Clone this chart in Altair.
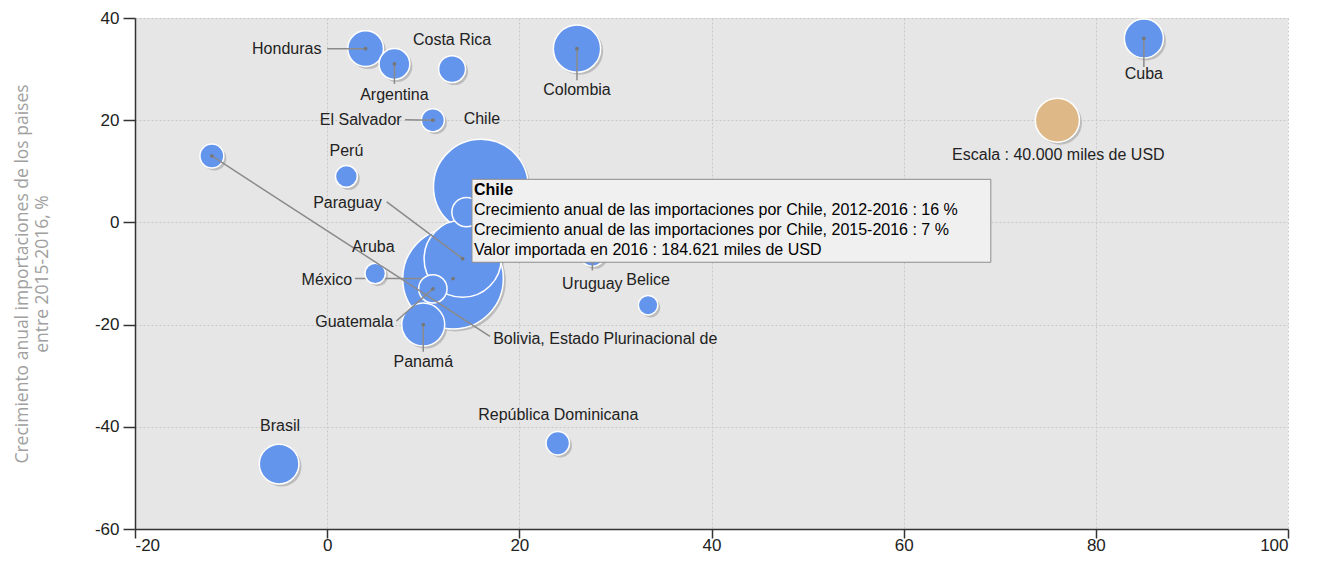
import altair as alt
import pandas as pd

# ---- data ----
paises = ["Honduras", "Argentina", "Costa Rica", "Colombia", "Cuba", "El Salvador",
          "Chile", "Perú", "Bolivia, Estado Plurinacional de", "Paraguay", "México",
          "Aruba", "Guatemala", "Panamá", "", "Uruguay", "Belice",
          "República Dominicana", "Brasil"]
crec_2012_2016 = [4, 7, 13, 26, 85, 11, 16, 2, -12, 14.1, 13.1, 5, 11, 10, 14.5, 27.6, 33.4, 24, -5]
crec_2015_2016 = [34, 31, 30, 34, 36, 20, 7, 9, 13, -7.1, -11, -10, -13, -20, 2, -6, -16.2, -43.2, -47.3]
valor_2016 = [26200, 19500, 14900, 45900, 31300, 10900, 184621, 9800, 11700, 122200,
              207700, 8600, 16500, 37900, 17600, 14300, 7800, 11300, 32300]

escala_valor = 40000
escala_texto = "Escala : 40.000 miles de USD"

# ---- label layout (data units) ----
label_x = [-0.6, 7.0, 13.0, 26.0, 85.0, 7.75, 16.1, 2.0, 17.28, 5.67, 2.61, 4.8, 6.9, 10.0, 0, 27.6, 33.4, 24.05, -4.9]
label_y = [34, 25.0, 35.6, 26.0, 29.1, 20.1, 20.3, 14.0, -22.9, 3.8, -11.2, -4.9, -19.5, -27.3, 0, -12.0, -11.2, -37.7, -39.9]
label_align = ["right", "center", "center", "center", "center", "right", "center", "center", "left",
               "right", "right", "center", "right", "center", "center", "center", "center", "center", "center"]
# leader line start (label side); None = no leader line
leader_x = [0.0, 7.0, None, 26.0, 85.0, 8.1, None, None, 16.94, 6.2, 2.9, None, 7.2, 10.0, None, 27.6, None, None, None]
leader_y = [34, 27.1, None, 27.8, 30.4, 20.1, None, None, -22.3, 4.0, -11.0, None, -19.3, -25.3, None, -9.4, None, None, None]

tooltip_lines = ["Chile",
                 "Crecimiento anual de las importaciones por Chile, 2012-2016 : 16 %",
                 "Crecimiento anual de las importaciones por Chile, 2015-2016 : 7 %",
                 "Valor importada en 2016 : 184.621 miles de USD"]
tooltip_line_y = [6.41, 2.5, -1.5, -5.45]
tooltip_bold = [True, False, False, False]
tooltip_box = {"x": 15.07, "x2": 69.07, "y": 8.43, "y2": -7.8}
tooltip_text_x = 15.28

df = pd.DataFrame({
    "pais": paises, "x": crec_2012_2016, "y": crec_2015_2016, "valor": valor_2016,
    "lx": label_x, "ly": label_y, "align": label_align,
    "sx": leader_x, "sy": leader_y,
})
df_lead = df.dropna(subset=["sx"]).copy()
df_esc = pd.DataFrame({"x": [76], "y": [20], "valor": [escala_valor],
                       "lx": [76.1], "ly": [13.1], "texto": [escala_texto]})
df_tip = pd.DataFrame({"t": tooltip_lines, "ty": tooltip_line_y, "b": tooltip_bold,
                       "tx": [tooltip_text_x] * 4})
df_box = pd.DataFrame([tooltip_box])

FONT = "Liberation Sans"
xscale = alt.Scale(domain=[-20, 100], nice=False, zero=False)
yscale = alt.Scale(domain=[-60, 40], nice=False, zero=False)
xaxis = alt.Axis(values=[-20, 0, 20, 40, 60, 80, 100], title=None, tickSize=9,
                 labelBaseline="alphabetic", labelPadding=12,
                 labelExpr="'' + datum.value")
yaxis = alt.Axis(values=[-60, -40, -20, 0, 20, 40], tickSize=12, labelPadding=4,
                 labelExpr="'' + datum.value",
                 title=["Crecimiento anual importaciones de los paises", "entre 2015-2016, %"],
                 titleX=-113, titleY=255.5, titleAngle=270, titleAlign="center",
                 titleBaseline="middle", titleLineHeight=20, titleFontSize=17.5,
                 titleColor="#a0a0a0", titleFontWeight="normal", titleFont="Open Sans")
sizescale = alt.Scale(type="linear", domain=[0, 200000], range=[0, 9740])

def X(f):
    return alt.X(f, scale=xscale, axis=xaxis)

def Y(f):
    return alt.Y(f, scale=yscale, axis=yaxis)

size = alt.Size("valor:Q", scale=sizescale, legend=None)
order = alt.Order("valor:Q", sort="descending")

base = alt.Chart(df)

shadow = base.mark_circle(color="#8a8a8a", opacity=0.45, xOffset=2.5, yOffset=2.5).encode(
    x=X("x:Q"), y=Y("y:Q"), size=size, order=order)
esc_shadow = alt.Chart(df_esc).mark_circle(color="#8a8a8a", opacity=0.45, xOffset=2.5, yOffset=2.5).encode(
    x=X("x:Q"), y=Y("y:Q"), size=size)

bub_big = base.transform_filter(alt.datum.pais == "México").mark_point(
    shape="circle", filled=True, fill="#6495ED", fillOpacity=1, stroke="white",
    strokeWidth=1.5, opacity=1).encode(x=X("x:Q"), y=Y("y:Q"), size=size)

lead_big = alt.Chart(df_lead).transform_filter(alt.datum.pais == "México").mark_rule(
    color="#8a8a8a", strokeWidth=1.5).encode(x=X("sx:Q"), x2="x:Q", y=Y("sy:Q"), y2="y:Q")

bub = base.transform_filter(alt.datum.pais != "México").mark_point(
    shape="circle", filled=True, fill="#6495ED", fillOpacity=1, stroke="white",
    strokeWidth=1.5, opacity=1).encode(x=X("x:Q"), y=Y("y:Q"), size=size, order=order)

esc = alt.Chart(df_esc).mark_point(
    shape="circle", filled=True, fill="#DEB887", fillOpacity=1, stroke="white",
    strokeWidth=1.5, opacity=1).encode(x=X("x:Q"), y=Y("y:Q"), size=size)

lead = alt.Chart(df_lead).transform_filter(alt.datum.pais != "México").mark_rule(
    color="#8a8a8a", strokeWidth=1.5).encode(x=X("sx:Q"), x2="x:Q", y=Y("sy:Q"), y2="y:Q")

dots = alt.Chart(df_lead).mark_circle(color="#777777", size=14, opacity=1).encode(
    x=X("x:Q"), y=Y("y:Q"))

labels = []
for al in ["left", "center", "right"]:
    labels.append(base.transform_filter(alt.datum.align == al).mark_text(
        align=al, baseline="middle", font=FONT, fontSize=16, color="#222222").encode(
        x=X("lx:Q"), y=Y("ly:Q"), text="pais:N"))

esc_label = alt.Chart(df_esc).mark_text(align="center", baseline="middle", font=FONT,
                                        fontSize=16, color="#222222").encode(
    x=X("lx:Q"), y=Y("ly:Q"), text="texto:N")

box = alt.Chart(df_box).mark_rect(fill="#f0f0f0", stroke="#8c8c8c", strokeWidth=1).encode(
    x=X("x:Q"), x2="x2:Q", y=Y("y:Q"), y2="y2:Q")

tip_bold = alt.Chart(df_tip).transform_filter(alt.datum.b).mark_text(
    align="left", baseline="middle", font=FONT, fontSize=16, fontWeight="bold",
    color="#000000").encode(x=X("tx:Q"), y=Y("ty:Q"), text="t:N")
tip_norm = alt.Chart(df_tip).transform_filter(~alt.datum.b).mark_text(
    align="left", baseline="middle", font=FONT, fontSize=16, fontWeight="normal",
    color="#000000").encode(x=X("tx:Q"), y=Y("ty:Q"), text="t:N")

chart = alt.layer(shadow, esc_shadow, bub_big, lead_big, bub, esc, lead, dots,
                  *labels, esc_label, box, tip_bold, tip_norm).properties(
    width=1153, height=511, autosize="none",
    padding={"left": 127, "top": 10, "right": 20, "bottom": 26},
).configure_view(fill="#e6e6e6", strokeWidth=0).configure_axis(
    labelFont=FONT, labelFontSize=17, labelColor="#222222",
    domainColor="#333333", domainWidth=1.5, tickColor="#333333", tickWidth=1.5,
    gridColor="#c8c8c8", gridDash=[2, 2], gridWidth=1,
)

chart.save("out.html", embed_options={"renderer": "svg", "actions": False})
